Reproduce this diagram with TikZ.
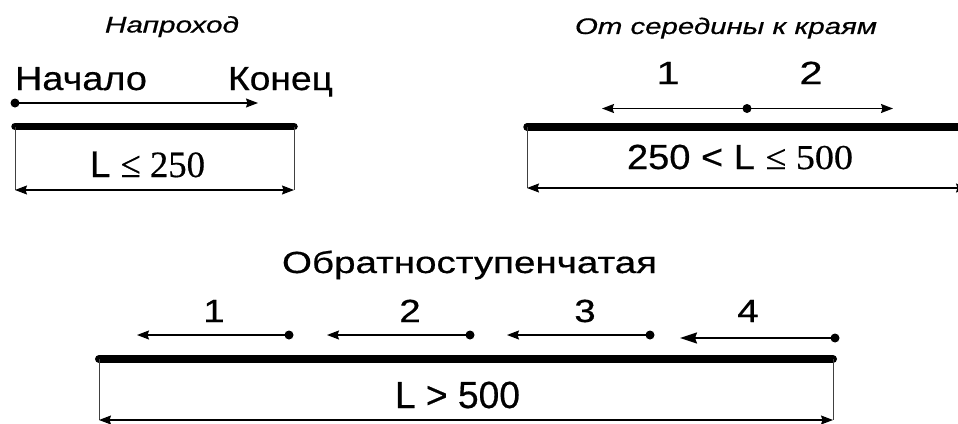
\documentclass[tikz,border=0pt]{standalone}
\usepackage{fontspec}
\setmainfont{Liberation Sans}[FakeBold=0.5]
\newfontfamily\tms{Liberation Serif}[FakeBold=0.4]
\usetikzlibrary{arrows.meta}
\newcommand\fitt[3]{\resizebox{#1pt}{#2pt}{\fontsize{20}{20}\selectfont\smash{#3}\vphantom{H}}}
\newcommand\dig[2]{\scalebox{#1}[1]{\fontsize{32}{32}\selectfont #2}}
\tikzset{
  txt/.style={inner sep=0pt, outer sep=0pt},
  dot/.style={circle, fill=black, inner sep=0pt, minimum size=9pt},
  bar/.style={line width=7.5pt, line cap=round},
  ext/.style={line width=0.8pt, black!75},
  dimline/.style={line width=1.2pt, {Stealth[length=12pt,width=9pt,inset=1.5pt]}-{Stealth[length=12pt,width=9pt,inset=1.5pt]}},
  dirarrow/.style={line width=1.3pt, -{Stealth[length=12pt,width=9pt,inset=1.5pt]}},
  dirarrowbig/.style={line width=2pt, -{Stealth[length=17pt,width=11pt,inset=2pt]}}
}
\begin{document}
\begin{tikzpicture}[x=1pt,y=-1pt]
\useasboundingbox (0,0) rectangle (958,423);
\clip (0,0) rectangle (958,423);

% ---------- Panel 1: Напроход ----------
\node[txt, anchor=base west] (t1) at (105,32.5) {\fitt{134}{15.5}{\itshape Напроход}};
\node[txt, anchor=base west] (beg) at (15,90) {\fitt{132}{23}{Начало}};
\node[txt, anchor=base west] (end) at (228,90) {\fitt{105}{23}{Конец}};
\node[dot] (p1d) at (15,103) {};
\coordinate (p1t) at (258,103);
\draw[dirarrow] (p1d.center) -- (p1t);
\coordinate (p1a) at (15,126.5);
\coordinate (p1b) at (294,126.5);
\draw[bar] (p1a) -- (p1b);
\coordinate (p1la) at (15,190);
\coordinate (p1lb) at (294,190);
\draw[ext] (p1a) -- (p1la);
\draw[ext] (p1b) -- (p1lb);
\draw[dimline] (p1la) -- (p1lb);
\node[txt, anchor=base west] (f1) at (90,177) {\fitt{115}{25.5}{L {\tms ≤ 250}}};

% ---------- Panel 2: От середины к краям ----------
\node[txt, anchor=base west] (t2) at (575,34) {\fitt{302}{15.5}{\itshape От середины к краям}};
\node[txt, anchor=base] (q1) at (668,84) {\dig{1.3}{1}};
\node[txt, anchor=base] (q2) at (811,84) {\dig{1.3}{2}};
\node[dot] (p2d) at (747,108.5) {};
\coordinate (p2l) at (602,108.5);
\coordinate (p2r) at (893,108.5);
\draw[dirarrow] (p2d.center) -- (p2l);
\draw[dirarrow] (p2d.center) -- (p2r);
\coordinate (p2a) at (527,127);
\coordinate (p2b) at (990,127);
\draw[bar] (p2a) -- (p2b);
\coordinate (p2la) at (527,188);
\coordinate (p2lb) at (968,188);
\draw[ext] (p2a) -- (p2la);
\draw[dimline] (p2la) -- (p2lb);
\node[txt, anchor=base west] (f2) at (627,169) {\fitt{226}{24}{250 < L {\tms ≤ 500}}};

% ---------- Panel 3: Обратноступенчатая ----------
\node[txt, anchor=base west] (t3) at (282,273) {\fitt{375}{21}{Обратноступенчатая}};
\node[txt, anchor=base] (r1) at (214,322) {\dig{1.2}{1}};
\node[txt, anchor=base] (r2) at (410,322) {\dig{1.2}{2}};
\node[txt, anchor=base] (r3) at (585,322) {\dig{1.2}{3}};
\node[txt, anchor=base] (r4) at (748,322) {\dig{1.2}{4}};
\node[dot] (s1) at (289,335) {};
\node[dot] (s2) at (470,335) {};
\node[dot] (s3) at (650,335) {};
\node[dot] (s4) at (835,338) {};
\coordinate (e1) at (137,335);
\coordinate (e2) at (327,335);
\coordinate (e3) at (507,335);
\coordinate (e4) at (680,338);
\draw[dirarrow] (s1.center) -- (e1);
\draw[dirarrow] (s2.center) -- (e2);
\draw[dirarrow] (s3.center) -- (e3);
\draw[dirarrowbig] (s4.center) -- (e4);
\coordinate (p3a) at (99,359);
\coordinate (p3b) at (833,359);
\draw[bar, line width=8pt] (p3a) -- (p3b);
\coordinate (p3la) at (99,420);
\coordinate (p3lb) at (833,420);
\draw[ext] (p3a) -- (p3la);
\draw[ext] (p3b) -- (p3lb);
\draw[dimline] (p3la) -- (p3lb);
\node[txt, anchor=base west] (f3) at (395,408) {\fitt{125}{26}{L > 500}};
\end{tikzpicture}
\end{document}
